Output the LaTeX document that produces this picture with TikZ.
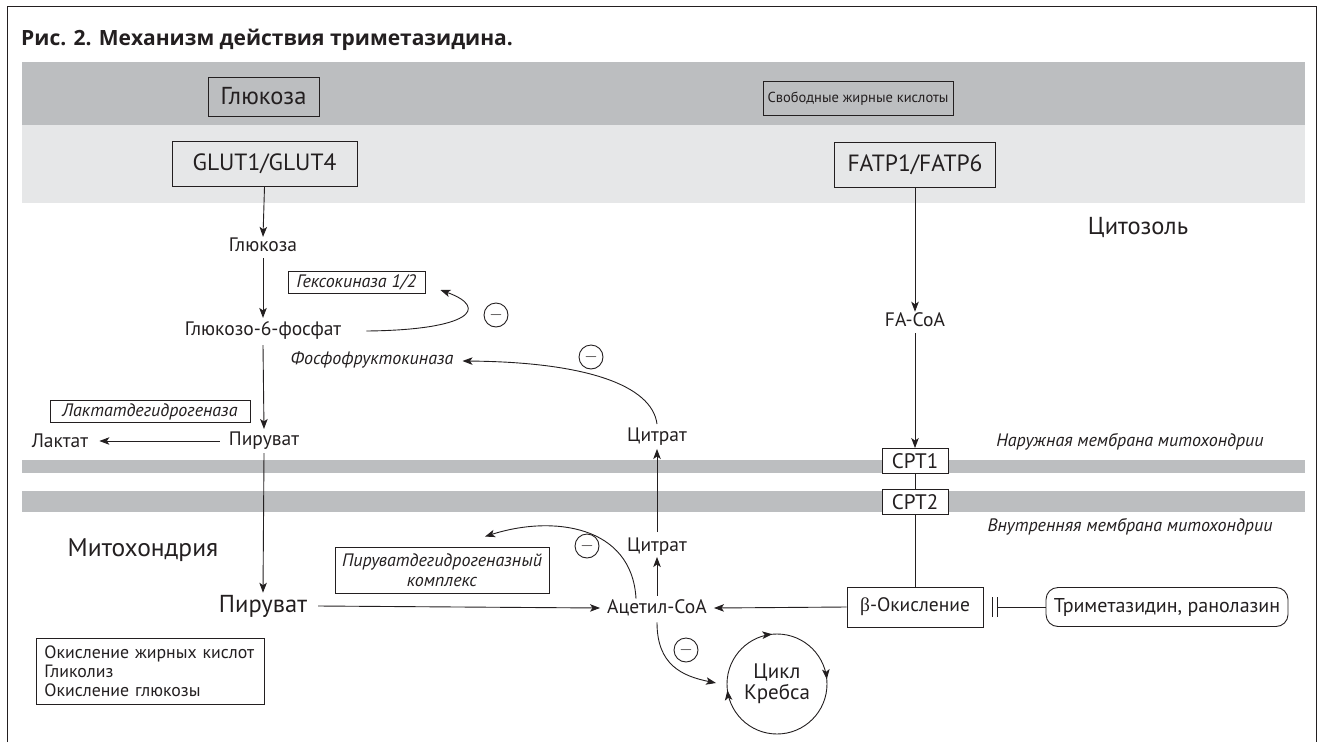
\documentclass[tikz,border=0pt]{standalone}
\usepackage{fontspec}
\setmainfont{PT Sans}[BoldFont={PT Sans Bold},ItalicFont={PT Sans Italic}]
\newfontfamily\titlefont{Open Sans}
\newfontfamily\grk{Liberation Serif}
\usetikzlibrary{arrows.meta,calc,decorations.markings}
\definecolor{bandD}{HTML}{BCBEC0}
\definecolor{bandL}{HTML}{E6E7E8}
\definecolor{ink}{HTML}{231F20}
\begin{document}
\begin{tikzpicture}[x=1pt,y=-1pt,
  >={Stealth[length=10pt,width=7.5pt,inset=2.5pt]},
  every node/.style={text=ink},
  conn/.style={draw=ink, line width=0.9pt, ->},
  plain/.style={draw=ink, line width=0.9pt},
  lbl/.style={font=\fontsize{19.5}{22}\selectfont, inner sep=1pt},
  big/.style={font=\fontsize{24.5}{28}\selectfont, inner sep=1pt},
  ital/.style={font=\fontsize{18}{20.5}\selectfont\itshape, inner sep=1pt},
  boxx/.style={draw=ink, line width=0.9pt, inner sep=2pt},
  minus/.style={draw=ink, line width=0.9pt, circle, minimum size=24pt, inner sep=0pt, font=\fontsize{17}{17}\selectfont},
]
\useasboundingbox (0,0) rectangle (1317,742);
% frame
\draw[ink, line width=1pt] (7,742) -- (7,6) -- (1316,6) -- (1316,742);
% title
\node[anchor=west, font=\titlefont\fontsize{21}{24}\selectfont\bfseries, inner sep=0pt] (title) at (21,40) {Рис. 2. Механизм действия триметазидина.};
% bands
\fill[bandD] (22,62) rectangle (1305,125);
\fill[bandL] (22,125) rectangle (1305,203);
\fill[bandD] (22,460) rectangle (1305,473);
\fill[bandD] (22,491) rectangle (1305,512);

% top boxes
\node[boxx, big, minimum width=111pt, minimum height=39pt] (gluc0) at (263.5,96.5) {Глюкоза};
\node[boxx, font=\fontsize{14.5}{17}\selectfont, minimum width=190pt, minimum height=34pt] (ffa) at (858,98.5) {Свободные жирные кислоты};
\node[boxx, font=\fontsize{23.5}{27}\selectfont, minimum width=185pt, minimum height=45pt] (glut) at (264.5,164) {GLUT1/GLUT4};
\node[boxx, font=\fontsize{23.5}{27}\selectfont, minimum width=161pt, minimum height=45pt] (fatp) at (915,164.5) {FATP1/FATP6};

% cytosol glycolysis
\node[lbl] (gluc1) at (263,245) {Глюкоза};
\node[lbl] (g6p) at (263,331) {Глюкозо-6-фосфат};
\node[boxx, ital, inner ysep=1pt, minimum width=137pt, minimum height=22pt] (hk) at (356.5,282) {Гексокиназа 1/2};
\node[ital] (pfk) at (372,360) {Фосфофруктокиназа};
\node[boxx, ital, inner ysep=1pt, minimum width=200pt, minimum height=22pt] (ldh) at (150,411.5) {Лактатдегидрогеназа};
\node[lbl] (pyr1) at (264,441) {Пируват};
\node[lbl] (lact) at (60,441) {Лактат};
\node[lbl] (citC) at (657,437) {Цитрат};
\node[lbl] (facoa) at (915,320) {FA-CoA};
\node[big] (cyto) at (1138,227) {Цитозоль};

% membranes
\node[boxx, fill=white, font=\fontsize{21}{24}\selectfont, inner ysep=0pt, minimum width=66pt, minimum height=25pt] (cpt1) at (915,461) {CPT1};
\node[boxx, fill=white, font=\fontsize{21}{24}\selectfont, inner ysep=0pt, minimum width=66pt, minimum height=25pt] (cpt2) at (915,502) {CPT2};
\node[ital] (outer) at (1130,442) {Наружная мембрана митохондрии};
\node[ital] (inner) at (1130,527) {Внутренняя мембрана митохондрии};

% mitochondria
\node[big, font=\fontsize{25.5}{28}\selectfont] (mito) at (143,550) {Митохондрия};
\node[big] (pyr2) at (263,606) {Пируват};
\node[lbl] (citM) at (657,547) {Цитрат};
\node[lbl] (acoa) at (657,608) {Ацетил-CoA};
\node[boxx, ital, font=\fontsize{18}{20}\selectfont\itshape, minimum width=214pt, minimum height=46pt, align=center] (pdh) at (442,570) {Пируватдегидрогеназный\\комплекс};
\node[boxx, font=\fontsize{19.5}{22}\selectfont, minimum width=136pt, minimum height=40pt] (beta) at (915,607) {{\grk β}-Окисление};
\node[boxx, rounded corners=12pt, font=\fontsize{20}{22}\selectfont, minimum width=242pt, minimum height=39pt] (tmz) at (1167,607) {Триметазидин, ранолазин};
\node[align=center, inner sep=0pt, font=\fontsize{21}{21}\selectfont] (krebs) at (777,684) {Цикл\\Кребса};
\node[boxx, align=left, anchor=north west, font=\fontsize{17.8}{18.8}\selectfont, inner xsep=8pt, inner ysep=5pt, minimum width=228pt, minimum height=66pt, text width=212pt] (legend) at (36,638) {Окисление жирных кислот\\Гликолиз\\Окисление глюкозы};

% minus circles
\node[minus] (m1) at (496,315) {$-$};
\node[minus] (m2) at (591,357) {$-$};
\node[minus] (m3) at (587,546) {$-$};
\node[minus] (m4) at (686,650) {$-$};

% connectors
\draw[conn] (glut.south) -- (gluc1.north);
\draw[conn] ($(gluc1.south)+(0,5)$) -- ($(g6p.north)+(0,-3)$);
\draw[conn] ($(g6p.south)+(0,4)$) -- ($(pyr1.north)+(0,-2)$);
\draw[conn] ($(pyr1.west)+(-8,0)$) -- ($(lact.east)+(10,0)$);
\draw[conn] ($(pyr1.south)+(0,2)$) -- ($(pyr2.north)+(0,-1)$);
\draw[conn] ($(g6p.east)+(24,0)$) .. controls (470,330) and (490,308) .. ($(hk.east)+(15,8)$);
\draw[conn] ($(citC.north)+(0,-3)$) .. controls (652,385) and (585,362) .. ($(pfk.east)+(8,1)$);
\draw[conn] (fatp.south) -- (facoa.north);
\draw[conn] ($(facoa.south)+(0,5)$) -- (cpt1.north);
\draw[plain] (cpt1.south) -- (cpt2.north);
\draw[plain] (cpt2.south) -- (beta.north);
\draw[conn] (beta.west) -- ($(acoa.east)+(6,0)$);
\draw[conn] ($(pyr2.east)+(10,0)$) -- ($(acoa.west)+(-6,0)$);
\draw[conn] ($(acoa.north)+(0,-3)$) -- ($(citM.south)+(0,0)$);
\draw[conn] ($(citM.north)+(0,-5)$) -- ($(citC.south)+(0,2)$);
\draw[conn] ($(acoa.north)+(-21,0)$) .. controls (632,525) and (552,515) .. ($(pdh.north)+(43,-10)$);
\draw[conn] ($(acoa.south)+(0,5)$) .. controls (657,665) and (682,676) .. ($(krebs.center)+(-61,-1)$);
% krebs circle
\draw[ink, line width=0.9pt, postaction={decorate}, decoration={markings,
   mark=at position 0.48 with {\arrow{>}},
   mark=at position 0.735 with {\arrow{>}},
   mark=at position 0.985 with {\arrow{>}}}] (krebs.center) circle[radius=50];
% inhibition
\coordinate (inh) at ($(beta.east)+(14,0)$);
\draw[plain] (tmz.west) -- (inh);
\draw[plain] ($(inh)+(0,-10)$) -- ($(inh)+(0,10)$);
\draw[plain] ($(inh)+(-5,-10)$) -- ($(inh)+(-5,10)$);
\end{tikzpicture}
\end{document}
